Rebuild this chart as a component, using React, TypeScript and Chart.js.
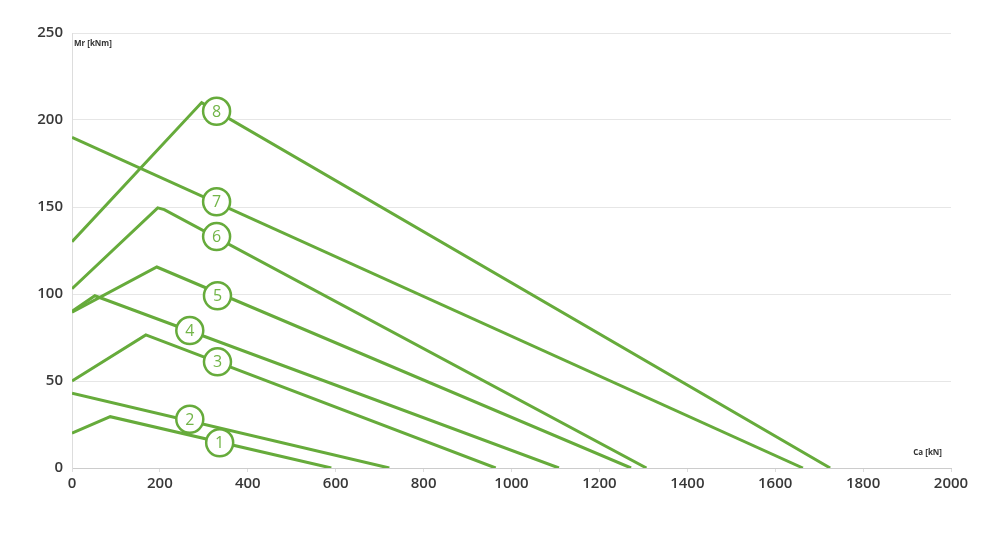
import { useEffect, useRef } from 'react'
import { Chart, registerables } from 'chart.js'

Chart.register(...registerables)

// curve vertices: Ca [kN] -> Mr [kNm]
const curve1X = [0, 87, 590]
const curve1Y = [20, 29.5, 0]
const curve2X = [0, 722]
const curve2Y = [43, 0]
const curve3X = [0, 168, 964]
const curve3Y = [50, 76.5, 0]
const curve4X = [0, 52, 1108]
const curve4Y = [90, 99, 0]
const curve5X = [0, 193, 1272]
const curve5Y = [89.5, 115.5, 0]
const curve6X = [0, 195, 210, 1307]
const curve6Y = [103, 149.5, 148.5, 0]
const curve7X = [0, 1663]
const curve7Y = [190, 0]
const curve8X = [0, 295, 1725]
const curve8Y = [130, 210, 0]

// numbered circle markers
const markerNames = ['1', '2', '3', '4', '5', '6', '7', '8']
const markerX = [336, 268, 331, 268, 331, 329, 329, 329]
const markerY = [14.5, 28, 61, 79, 99, 133, 153, 205]

const xTicks = [0, 200, 400, 600, 800, 1000, 1200, 1400, 1600, 1800, 2000]
const yTicks = [0, 50, 100, 150, 200, 250]

const GREEN = '#66ab3b'

const curves = [
  [curve1X, curve1Y],
  [curve2X, curve2Y],
  [curve3X, curve3Y],
  [curve4X, curve4Y],
  [curve5X, curve5Y],
  [curve6X, curve6Y],
  [curve7X, curve7Y],
  [curve8X, curve8Y],
]

const markerText = {
  id: 'markerText',
  afterDatasetsDraw(chart: any) {
    const { ctx, chartArea } = chart
    const meta = chart.getDatasetMeta(0)
    ctx.save()
    ctx.fillStyle = '#72b548'
    ctx.font = '500 16px "Open Sans"'
    ctx.textAlign = 'center'
    ctx.textBaseline = 'middle'
    meta.data.forEach((pt: any, i: number) => {
      ctx.fillText(markerNames[i], pt.x, pt.y + 1)
    })
    // axis titles
    ctx.fillStyle = '#333'
    ctx.font = 'bold 8px "Open Sans"'
    ctx.textAlign = 'left'
    ctx.fillText('Mr [kNm]', chartArea.left + 2, chartArea.top + 11)
    ctx.textAlign = 'right'
    ctx.fillText('Ca [kN]', chartArea.right - 9, chartArea.bottom - 15)
    ctx.restore()
  },
}

export default function App() {
  const canvasRef = useRef<HTMLCanvasElement>(null)

  useEffect(() => {
    if (!canvasRef.current) return
    const lineSets = curves.map(([xs, ys]) => ({
      type: 'line' as const,
      data: xs.map((x, i) => ({ x, y: ys[i] })),
      borderColor: GREEN,
      borderWidth: 3,
      pointRadius: 0,
      fill: false,
      tension: 0,
      order: 1,
    }))

    const tickFont = { family: 'Open Sans', size: 15, weight: 600 as const }

    const chart = new Chart(canvasRef.current, {
      type: 'scatter',
      data: {
        datasets: [
          {
            type: 'scatter',
            data: markerX.map((x, i) => ({ x, y: markerY[i] })),
            pointRadius: 13.5,
            pointBorderWidth: 2.5,
            pointBackgroundColor: '#fff',
            pointBorderColor: GREEN,
            order: 0,
          },
          ...lineSets,
        ] as any,
      },
      options: {
        animation: false,
        responsive: true,
        maintainAspectRatio: false,
        layout: { padding: { top: 25, right: 30, bottom: 41, left: 0 } },
        plugins: { legend: { display: false }, tooltip: { enabled: false } },
        scales: {
          x: {
            type: 'linear',
            min: 0,
            max: 2000,
            afterBuildTicks: (s: any) => {
              s.ticks = xTicks.map(v => ({ value: v }))
            },
            afterFit: (s: any) => {
              s.height = 30
            },
            grid: { drawOnChartArea: false, color: '#ddd', tickLength: 4 },
            border: { color: '#ccc' },
            ticks: {
              color: '#383838',
              font: tickFont,
              padding: 3,
              maxRotation: 0,
              callback: (v: any) => String(v),
            },
          },
          y: {
            type: 'linear',
            min: 0,
            max: 250,
            afterBuildTicks: (s: any) => {
              s.ticks = yTicks.map(v => ({ value: v }))
            },
            afterFit: (s: any) => {
              s.width = 64
            },
            grid: { color: '#e6e6e6', drawTicks: false },
            border: { color: '#ddd' },
            ticks: { color: '#383838', font: tickFont, padding: 9, callback: (v: any) => String(v) },
          },
        },
      },
      plugins: [markerText],
    })
    return () => chart.destroy()
  }, [])

  return (
    <div style={{ position: 'relative', width: 973, height: 531 }}>
      <canvas ref={canvasRef} />
    </div>
  )
}
